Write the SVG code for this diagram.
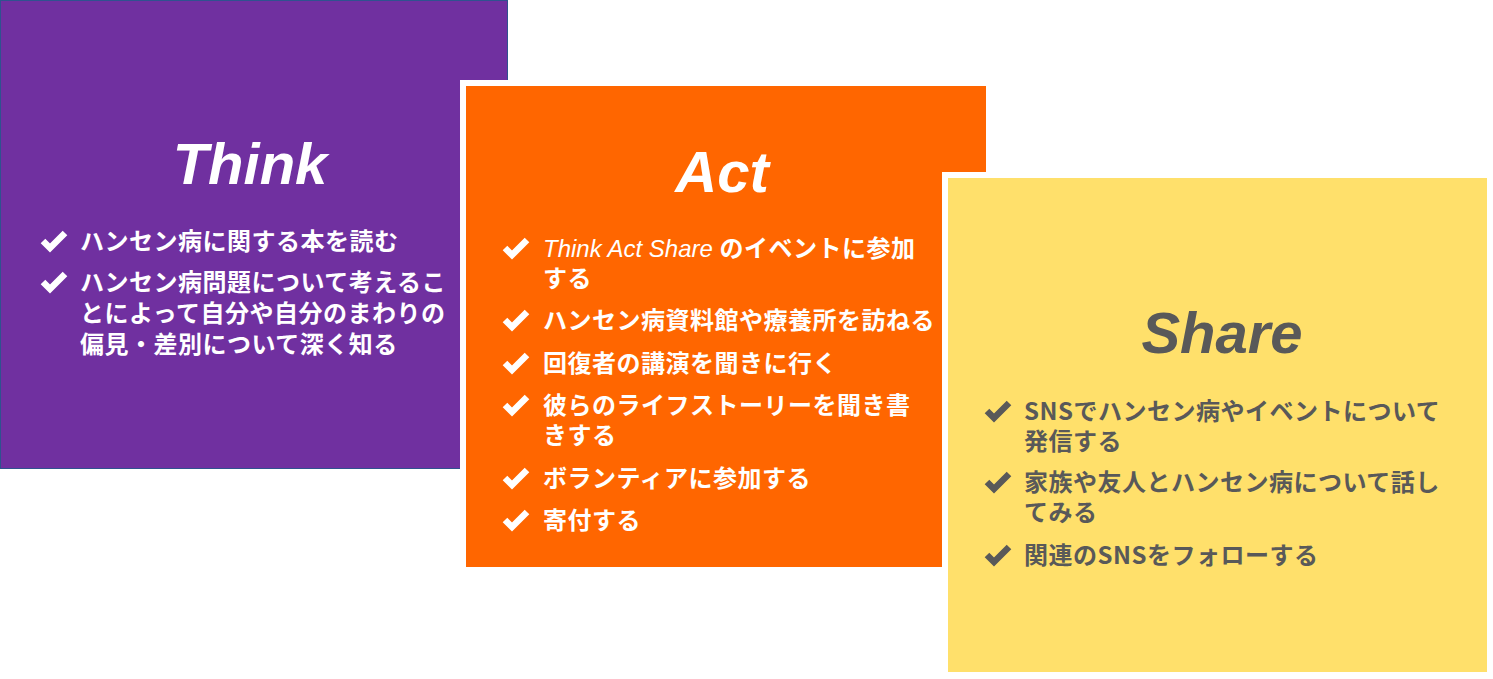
<svg xmlns="http://www.w3.org/2000/svg" width="1493" height="679" viewBox="0 0 1493 679">
<style>
.title{font-family:"Liberation Sans",Arial,sans-serif;font-weight:bold;font-style:italic;font-size:58px;text-anchor:middle}
.item{font-family:"Noto Sans CJK JP","Noto Sans",sans-serif;font-weight:bold;font-size:24px;letter-spacing:0.5px}
.lat{font-family:"Liberation Sans",Arial,sans-serif;font-style:italic;font-weight:normal;font-size:24px;letter-spacing:0}
.w{fill:#FFFFFF}
.g{fill:#595959}
.chk{fill:none;stroke-width:6.5;stroke-linejoin:miter}
</style>
<defs>
<polyline id="check" points="2,-9 9,-2 24,-17" />
</defs>
<rect width="1493" height="679" fill="#FFFFFF"/>

<g id="think">
<rect x="0.5" y="0.5" width="507" height="468" fill="#7030A0" stroke="#2F528F" stroke-width="1"/>
<text class="title w" x="250" y="184">Think</text>
<g class="chk" stroke="#FFFFFF">
<use href="#check" x="41" y="250"/>
<use href="#check" x="41" y="291"/>
</g>
<text class="item w" x="80" y="250">ハンセン病に関する本を読む</text>
<text class="item w" x="80" y="291">ハンセン病問題について考えるこ</text>
<text class="item w" x="80" y="322">とによって自分や自分のまわりの</text>
<text class="item w" x="80" y="353">偏見・差別について深く知る</text>
</g>

<g id="act">
<rect x="463" y="83" width="526" height="487" fill="#FF6600" stroke="#FFFFFF" stroke-width="6"/>
<text class="title w" x="722" y="192">Act</text>
<g class="chk" stroke="#FFFFFF">
<use href="#check" x="503" y="257"/>
<use href="#check" x="503" y="329"/>
<use href="#check" x="503" y="372"/>
<use href="#check" x="503" y="414"/>
<use href="#check" x="503" y="487"/>
<use href="#check" x="503" y="529"/>
</g>
<text class="item w" x="543" y="257"><tspan class="lat">Think Act Share </tspan>のイベントに参加</text>
<text class="item w" x="543" y="287">する</text>
<text class="item w" x="543" y="329">ハンセン病資料館や療養所を訪ねる</text>
<text class="item w" x="543" y="372">回復者の講演を聞きに行く</text>
<text class="item w" x="543" y="414">彼らのライフストーリーを聞き書</text>
<text class="item w" x="543" y="444">きする</text>
<text class="item w" x="543" y="487">ボランティアに参加する</text>
<text class="item w" x="543" y="529">寄付する</text>
</g>

<g id="share">
<rect x="945" y="175" width="545" height="500" fill="#FFE06B" stroke="#FFFFFF" stroke-width="6"/>
<text class="title g" x="1222" y="353">Share</text>
<g class="chk" stroke="#595959">
<use href="#check" x="985" y="420"/>
<use href="#check" x="985" y="491"/>
<use href="#check" x="985" y="564"/>
</g>
<text class="item g" x="1024" y="420">SNSでハンセン病やイベントについて</text>
<text class="item g" x="1024" y="450">発信する</text>
<text class="item g" x="1024" y="491">家族や友人とハンセン病について話し</text>
<text class="item g" x="1024" y="521">てみる</text>
<text class="item g" x="1024" y="564">関連のSNSをフォローする</text>
</g>

<g id="connectors"></g>
</svg>
